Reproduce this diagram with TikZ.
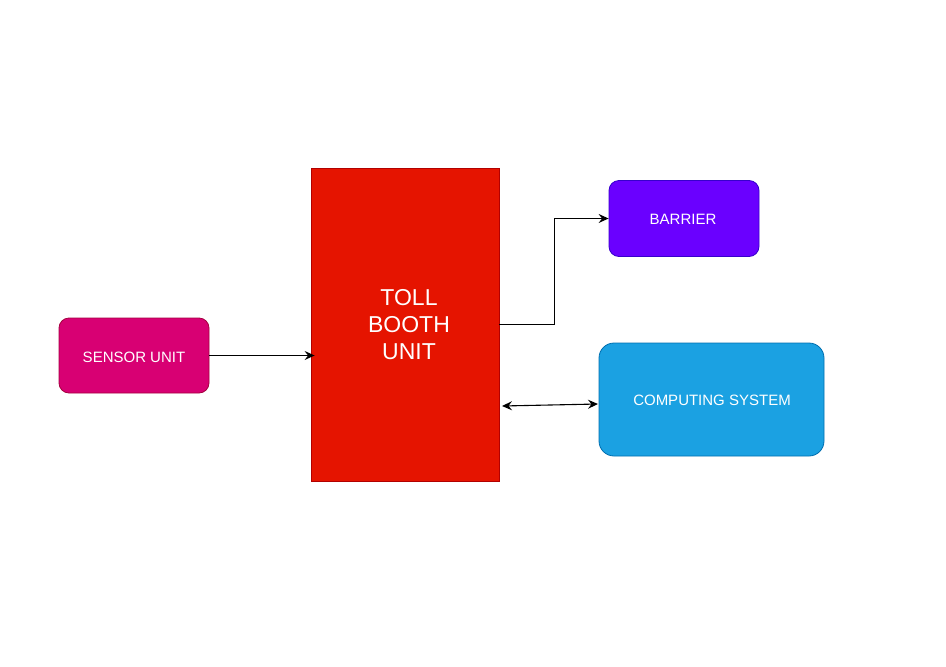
\documentclass[tikz,border=0pt]{standalone}
\usepackage{fontspec}
\setmainfont{Liberation Sans}
\usetikzlibrary{arrows.meta}
\definecolor{tollfill}{HTML}{E51400}
\definecolor{tolldraw}{HTML}{B20000}
\definecolor{sensfill}{HTML}{D80073}
\definecolor{sensdraw}{HTML}{A50040}
\definecolor{barfill}{HTML}{6A00FF}
\definecolor{bardraw}{HTML}{3700CC}
\definecolor{compfill}{HTML}{1BA1E2}
\definecolor{compdraw}{HTML}{006EAF}
\tikzset{
  box/.style={rectangle, inner sep=0pt, text=white, line width=0.8pt, font=\fontsize{15}{18}\selectfont},
  conn/.style={line width=1.1pt, -{Stealth[length=10pt,width=9pt,inset=3.5pt]}},
}
\begin{document}
\begin{tikzpicture}[x=1pt,y=-1pt]
\useasboundingbox (0,0) rectangle (946,667);
\node[box, fill=tollfill, draw=tolldraw, minimum width=188pt, minimum height=313pt] (toll) at (405,324.5) {};
\node[text=white, align=center, inner sep=0pt, font=\fontsize{23}{27}\selectfont] (tolltext) at (409,325) {TOLL\\BOOTH\\UNIT};
\node[box, fill=sensfill, draw=sensdraw, rounded corners=10pt, minimum width=150pt, minimum height=75pt] (sensor) at (134,355.5) {};
\node[text=white, inner sep=0pt, font=\fontsize{15}{18}\selectfont] (senstext) at (134,357) {SENSOR UNIT};
\node[box, fill=barfill, draw=bardraw, rounded corners=10pt, minimum width=150pt, minimum height=76pt] (barrier) at (684,218.5) {};
\node[text=white, inner sep=0pt, font=\fontsize{15}{18}\selectfont] (bartext) at (683,219) {BARRIER};
\node[box, fill=compfill, draw=compdraw, rounded corners=15pt, minimum width=225pt, minimum height=113pt] (comp) at (711.5,399.5) {};
\node[text=white, inner sep=0pt, font=\fontsize{15}{18}\selectfont] (comptext) at (712,400.5) {COMPUTING SYSTEM};
\draw[conn] (sensor.east) -- ([xshift=4pt]toll.west |- sensor.east);
\coordinate (bend) at (554.5,324.5);
\draw[conn] (toll.east |- bend) -- (bend) |- (barrier.west);
\coordinate (da) at (502,406);
\coordinate (db) at (598,404);
\draw[line width=1.1pt, {Stealth[length=10pt,width=9pt,inset=3.5pt]}-{Stealth[length=10pt,width=9pt,inset=3.5pt]}] (da) -- (db);
\end{tikzpicture}
\end{document}
